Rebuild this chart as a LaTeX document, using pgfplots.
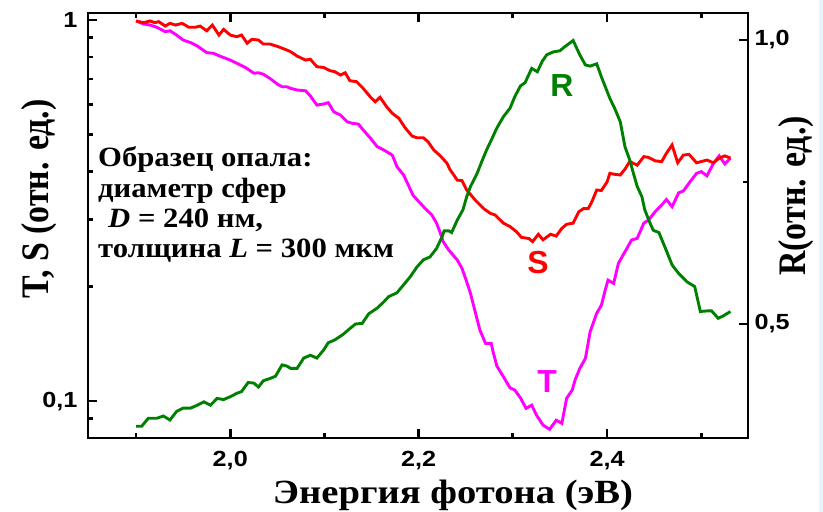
\documentclass[border=0pt]{standalone}
\usepackage{pgfplots}
\pgfplotsset{compat=1.18}
\usepackage{fontspec}
\setmainfont{Liberation Serif}
\newfontfamily\ticksf[FakeStretch=1.15]{Liberation Sans}
\newfontfamily\labsf{Liberation Sans}
\newfontfamily\serifwide[FakeStretch=1.14]{Liberation Serif}
\newfontfamily\serifann[FakeStretch=1.1]{Liberation Serif}
\definecolor{cR}{RGB}{0,128,0}
\definecolor{cS}{RGB}{255,0,0}
\definecolor{cT}{RGB}{255,0,255}

\pgfplotstableread{
E S
1.900 0.994
1.908 0.984
1.915 0.994
1.920 0.984
1.924 0.990
1.931 0.964
1.936 0.980
1.942 0.970
1.949 0.980
1.956 0.957
1.963 0.957
1.968 0.964
1.975 0.937
1.981 0.970
1.988 0.913
1.993 0.945
2.000 0.913
2.007 0.904
2.012 0.913
2.018 0.869
2.023 0.890
2.030 0.886
2.035 0.865
2.042 0.865
2.051 0.851
2.060 0.834
2.064 0.826
2.071 0.804
2.080 0.785
2.085 0.789
2.092 0.754
2.099 0.751
2.106 0.736
2.111 0.732
2.117 0.717
2.122 0.727
2.127 0.693
2.134 0.689
2.141 0.662
2.149 0.627
2.154 0.610
2.159 0.627
2.166 0.592
2.172 0.569
2.179 0.552
2.186 0.520
2.193 0.496
2.198 0.491
2.205 0.491
2.210 0.479
2.216 0.456
2.223 0.440
2.230 0.421
2.233 0.406
2.241 0.380
2.246 0.379
2.251 0.358
2.260 0.337
2.269 0.320
2.276 0.311
2.281 0.308
2.290 0.293
2.297 0.287
2.304 0.278
2.309 0.269
2.317 0.267
2.321 0.262
2.327 0.274
2.332 0.265
2.340 0.274
2.346 0.271
2.352 0.284
2.357 0.291
2.364 0.293
2.370 0.314
2.375 0.320
2.380 0.320
2.384 0.334
2.389 0.358
2.394 0.357
2.400 0.376
2.403 0.396
2.407 0.394
2.414 0.392
2.419 0.406
2.424 0.425
2.432 0.416
2.439 0.438
2.444 0.436
2.451 0.427
2.458 0.425
2.463 0.447
2.469 0.470
2.475 0.422
2.481 0.442
2.487 0.444
2.495 0.422
2.506 0.429
2.513 0.422
2.519 0.434
2.525 0.440
2.531 0.434
}\dataS

\pgfplotstableread{
E T
1.900 0.994
1.908 0.976
1.915 0.970
1.922 0.957
1.931 0.932
1.936 0.937
1.943 0.913
1.950 0.886
1.958 0.872
1.965 0.855
1.975 0.821
1.982 0.818
1.989 0.804
2.000 0.785
2.007 0.770
2.016 0.751
2.025 0.725
2.030 0.727
2.035 0.721
2.042 0.703
2.050 0.679
2.055 0.668
2.060 0.668
2.064 0.662
2.071 0.655
2.080 0.652
2.085 0.632
2.092 0.598
2.099 0.602
2.104 0.607
2.110 0.574
2.117 0.563
2.124 0.541
2.129 0.536
2.136 0.533
2.141 0.515
2.149 0.489
2.156 0.465
2.163 0.456
2.172 0.442
2.177 0.412
2.184 0.392
2.189 0.369
2.194 0.347
2.200 0.334
2.207 0.320
2.214 0.308
2.219 0.293
2.223 0.276
2.226 0.262
2.232 0.249
2.241 0.2345
2.246 0.223
2.251 0.2056
2.255 0.1917
2.260 0.1715
2.265 0.1536
2.271 0.1417
2.277 0.1417
2.279 0.1347
2.283 0.1236
2.290 0.1158
2.297 0.1083
2.302 0.1069
2.308 0.1020
2.314 0.0957
2.320 0.0976
2.325 0.0919
2.332 0.0865
2.339 0.0843
2.346 0.0891
2.352 0.0874
2.357 0.1016
2.363 0.1069
2.366 0.1135
2.371 0.1218
2.377 0.1294
2.382 0.1520
2.389 0.1700
2.394 0.1786
2.398 0.1955
2.401 0.2077
2.407 0.2036
2.412 0.2298
2.419 0.2465
2.426 0.2646
2.432 0.2673
2.439 0.2930
2.444 0.2986
2.451 0.3140
2.458 0.3270
2.463 0.3380
2.469 0.3236
2.476 0.3520
2.481 0.3560
2.488 0.3760
2.495 0.3960
2.500 0.4000
2.506 0.3900
2.513 0.4210
2.519 0.4400
2.525 0.4190
2.531 0.4340
}\dataT

\pgfplotstableread{
E R
1.900 0.320
1.906 0.320
1.913 0.334
1.922 0.334
1.929 0.338
1.936 0.331
1.943 0.346
1.950 0.352
1.958 0.352
1.965 0.357
1.972 0.363
1.979 0.357
1.986 0.369
1.993 0.367
2.000 0.372
2.007 0.378
2.012 0.381
2.019 0.397
2.025 0.396
2.030 0.389
2.035 0.400
2.042 0.404
2.048 0.408
2.055 0.428
2.060 0.426
2.064 0.422
2.071 0.422
2.078 0.440
2.085 0.445
2.092 0.440
2.099 0.454
2.104 0.467
2.111 0.472
2.120 0.482
2.127 0.492
2.133 0.500
2.140 0.501
2.147 0.518
2.156 0.528
2.163 0.539
2.168 0.548
2.177 0.555
2.184 0.569
2.191 0.583
2.198 0.600
2.205 0.613
2.212 0.618
2.219 0.633
2.225 0.654
2.227 0.664
2.232 0.664
2.235 0.661
2.241 0.683
2.247 0.701
2.251 0.724
2.255 0.742
2.262 0.765
2.267 0.786
2.272 0.806
2.278 0.827
2.283 0.845
2.290 0.865
2.297 0.880
2.302 0.900
2.308 0.919
2.313 0.925
2.320 0.950
2.326 0.944
2.331 0.962
2.336 0.974
2.343 0.979
2.350 0.981
2.355 0.988
2.364 0.999
2.371 0.974
2.377 0.956
2.382 0.954
2.389 0.958
2.394 0.935
2.398 0.918
2.403 0.897
2.408 0.880
2.414 0.856
2.419 0.812
2.424 0.789
2.428 0.765
2.432 0.742
2.437 0.724
2.440 0.701
2.445 0.680
2.449 0.665
2.455 0.661
2.462 0.633
2.469 0.604
2.476 0.589
2.485 0.574
2.493 0.566
2.499 0.522
2.506 0.523
2.511 0.523
2.518 0.510
2.523 0.514
2.531 0.522
}\dataR

\begin{document}
\begin{tikzpicture}
\useasboundingbox (-88bp,-74bp) rectangle (735bp,438bp);
\fill[cyan!12] (731bp,-74bp) rectangle (735bp,438bp);
\pgfplotsset{
  common/.style={
    at={(0,0)}, anchor=south west,
    scale only axis, width=660bp, height=425bp,
    xmin=1.849, xmax=2.5496,
    axis line style={line width=2.8bp},
    major tick length=9bp, minor tick length=5bp,
    tick align=inside,
    every tick/.style={black, line width=2.8bp},
    tick label style={font=\ticksf\bfseries\fontsize{22}{22}\selectfont},
  }
}
\begin{axis}[common,
  ymode=log, ymin=0.08, ymax=1.0432,
  xtick={2.0,2.2,2.4}, xticklabels={{2,0},{2,2},{2,4}},
  minor xtick={1.9,2.1,2.3,2.5},
  ytick={0.1,1}, yticklabels={{0,1},{1}},
  minor ytick={0.08,0.09,0.2,0.3,0.4,0.5,0.6,0.7,0.8,0.9},
  xtick pos=both, ytick pos=left,
  xticklabel style={yshift=-10bp},
  yticklabel style={xshift=-7bp},
]
\addplot[cT, line width=2.9bp] table[x=E,y=T] {\dataT};
\addplot[cS, line width=2.9bp] table[x=E,y=S] {\dataS};
\end{axis}
\begin{axis}[common,
  ymin=0.2993, ymax=1.0475,
  axis y line*=right, axis x line=none,
  ytick={0.5,1.0}, yticklabels={{0,5},{1,0}},
  minor ytick={0.75},
  yticklabel style={xshift=3bp},
]
\addplot[cR, line width=2.9bp] table[x=E,y=R] {\dataR};
\end{axis}
% axis titles
\node[anchor=base, font=\serifwide\bfseries\fontsize{34}{34}\selectfont] at (365bp,-65bp) {Энергия фотона (эВ)};
\node[anchor=base, rotate=90, font=\bfseries\fontsize{34}{34}\selectfont] at (-40bp,239bp) {\scalebox{1}[1.15]{T, S (отн. ед.)}};
\node[anchor=base, rotate=90, font=\bfseries\fontsize{34}{34}\selectfont] at (717bp,242bp) {\scalebox{1}[1.15]{R(отн. ед.)}};
% annotation
\begin{scope}[every node/.style={anchor=base west, inner sep=0pt, font=\serifann\bfseries\fontsize{28}{28}\selectfont}]
\node at (10bp,271bp) {Образец опала:};
\node at (10bp,240bp) {диаметр сфер};
\node at (20bp,210bp) {\textit{D} = 240 нм,};
\node at (10bp,180bp) {толщина \textit{L} = 300 мкм};
\end{scope}
% curve labels
\node[font=\labsf\bfseries\fontsize{32}{32}\selectfont, text=cR] at (474bp,352bp) {R};
\node[font=\labsf\bfseries\fontsize{32}{32}\selectfont, text=cS] at (450bp,175bp) {S};
\node[font=\labsf\bfseries\fontsize{32}{32}\selectfont, text=cT] at (459bp,56bp) {T};
\end{tikzpicture}
\end{document}
